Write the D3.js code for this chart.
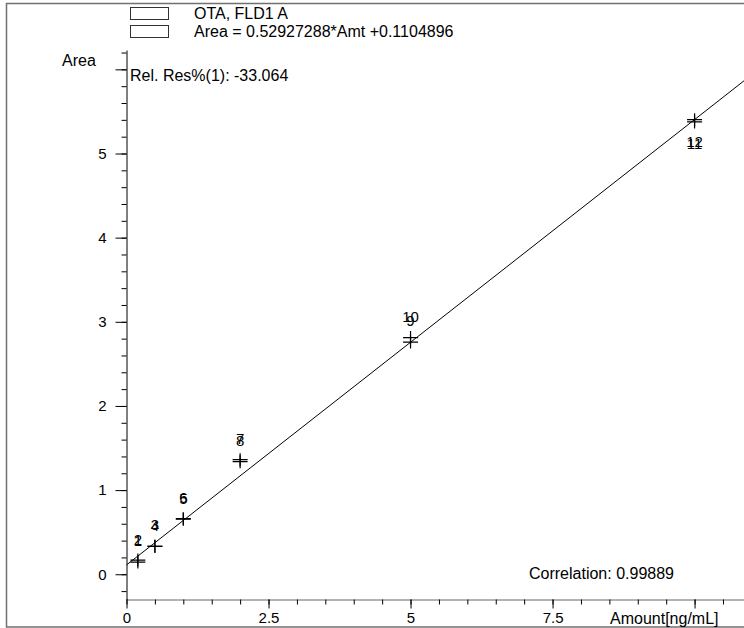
<!DOCTYPE html>
<html>
<head>
<meta charset="utf-8">
<script src="https://cdn.jsdelivr.net/npm/d3@7"></script>
<style>
  html, body { margin: 0; padding: 0; background: #fff; }
  svg { display: block; font-family: "Liberation Sans", Arial, sans-serif; }
</style>
</head>
<body>
<svg id="chart" width="744" height="628"></svg>
<script>
// Calibration levels (amount) and measured responses (area), replicate by replicate
const pointIds = [1, 2, 3, 4, 5, 6, 7, 8, 9, 10, 11, 12];
const amounts  = [0.2, 0.2, 0.5, 0.5, 1, 1, 2, 2, 5, 5, 10, 10];
const areas    = [0.1447, 0.168, 0.335, 0.33, 0.655, 0.66, 1.362, 1.338, 2.759, 2.812, 5.375, 5.402];

// Linear fit reported by the calibration
const slope = 0.52927288;
const intercept = 0.1104896;

const legendTexts = ["OTA, FLD1 A", "Area = 0.52927288*Amt +0.1104896"];
const relResText = "Rel. Res%(1): -33.064";
const correlationText = "Correlation: 0.99889";
const xTitle = "Amount[ng/mL]";
const yTitle = "Area";

const xMajorTicks = [0, 2.5, 5, 7.5, 10];
const xTickLabels = ["0", "2.5", "5", "7.5", ""];
const yMajorTicks = [0, 1, 2, 3, 4, 5, 6];
const yTickLabels = ["0", "1", "2", "3", "4", "5", ""];

const svg = d3.select("#chart");
const fs = 15;     // tick and point labels
const fsText = 16; // legend and annotations

// outer frame
svg.append("path")
  .attr("d", "M760,3.5 H6.5 V627 H760")
  .attr("fill", "none").attr("stroke", "#707070").attr("stroke-width", 1.5);

const x = d3.scaleLinear().domain([0, 10.87]).range([126.5, 744]);
const y = d3.scaleLinear().domain([-0.3, 6.23]).range([599.5, 50]);

// x axis: minor ticks then labelled major ticks
const xMinor = d3.range(0, 10.9, 0.5);
svg.append("g").attr("transform", `translate(0,${y.range()[0]})`)
  .call(d3.axisBottom(x).tickValues(xMinor).tickSize(5).tickSizeOuter(0).tickFormat(""))
  .call(g => g.select(".domain").attr("stroke", "#666"))
  .call(g => g.selectAll(".tick line").attr("stroke", "#000"));
svg.append("g").attr("transform", `translate(0,${y.range()[0]})`)
  .call(d3.axisBottom(x).tickValues(xMajorTicks).tickSize(9).tickSizeOuter(0).tickPadding(4)
    .tickFormat((d, i) => xTickLabels[i]))
  .call(g => g.select(".domain").remove())
  .call(g => g.selectAll("text").attr("font-size", fs).attr("font-family", "Liberation Sans, Arial, sans-serif").attr("fill", "#000"));

// y axis
const yMinor = d3.range(-0.2, 6.25, 0.2);
svg.append("g").attr("transform", `translate(${x.range()[0]},0)`)
  .call(d3.axisLeft(y).tickValues(yMinor).tickSize(5).tickSizeOuter(0).tickFormat(""))
  .call(g => g.select(".domain").attr("stroke", "#000"));
svg.append("g").attr("transform", `translate(${x.range()[0]},0)`)
  .call(d3.axisLeft(y).tickValues(yMajorTicks).tickSize(11).tickSizeOuter(0).tickPadding(9)
    .tickFormat((d, i) => yTickLabels[i]))
  .call(g => g.select(".domain").remove())
  .call(g => g.selectAll("text").attr("font-size", fs).attr("font-family", "Liberation Sans, Arial, sans-serif").attr("fill", "#000"));

// calibration line across the whole amount range
const xEnd = x.domain()[1];
svg.append("line")
  .attr("x1", x(0)).attr("y1", y(intercept))
  .attr("x2", x(xEnd)).attr("y2", y(slope * xEnd + intercept))
  .attr("stroke", "#000").attr("stroke-width", 1);

// measured points as crosses, with their numbers
const pts = pointIds.map((id, i) => ({ id, amt: amounts[i], area: areas[i] }));
const pg = svg.append("g");
pts.forEach(p => {
  const cx = x(p.amt), cy = y(p.area);
  pg.append("path")
    .attr("d", `M${cx - 7.5},${cy} H${cx + 7.5} M${cx},${cy - 6.5} V${cy + 6.5}`)
    .attr("stroke", "#000").attr("stroke-width", 1.2).attr("fill", "none");
  const below = cy < 150;
  pg.append("text")
    .attr("x", cx).attr("y", below ? cy + 22 : cy - 21)
    .attr("dy", "0.36em")
    .attr("text-anchor", "middle")
    .attr("font-size", fs)
    .attr("fill", "#000")
    .text(p.id);
});

// legend
legendTexts.forEach((t, i) => {
  svg.append("rect")
    .attr("x", 130.5).attr("y", 7.5 + i * 18).attr("width", 38).attr("height", 12)
    .attr("fill", "#fff").attr("stroke", "#333").attr("stroke-width", 1);
  svg.append("text")
    .attr("x", 194).attr("y", 13 + i * 18.5).attr("dy", "0.36em")
    .attr("font-size", fsText).attr("fill", "#000").text(t);
});

// annotations
svg.append("text").attr("x", 62).attr("y", 60).attr("dy", "0.36em")
  .attr("font-size", fsText).attr("fill", "#000").text(yTitle);
svg.append("text").attr("x", 130).attr("y", 75).attr("dy", "0.36em")
  .attr("font-size", fsText).attr("fill", "#000").text(relResText);
svg.append("text").attr("x", 529).attr("y", 573).attr("dy", "0.36em")
  .attr("font-size", fsText).attr("fill", "#000").text(correlationText);
svg.append("text").attr("x", 610).attr("y", 618).attr("dy", "0.36em")
  .attr("font-size", fsText).attr("fill", "#000").text(xTitle);
</script>
</body>
</html>
